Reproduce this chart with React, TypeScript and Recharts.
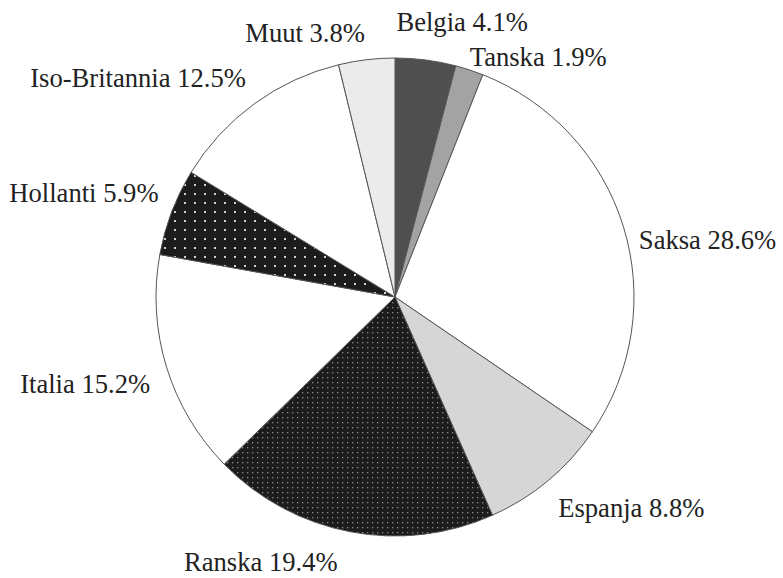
import React from 'react';
import { PieChart, Pie, Cell } from 'recharts';

const countries = ['Belgia', 'Tanska', 'Saksa', 'Espanja', 'Ranska', 'Italia', 'Hollanti', 'Iso-Britannia', 'Muut'];
const shares = [4.1, 1.9, 28.6, 8.8, 19.4, 15.2, 5.9, 12.5, 3.8];

const data = countries.map((name, i) => ({ name, value: shares[i] }));

const fills = [
  '#4f4f4f',
  '#a3a3a3',
  '#ffffff',
  '#d6d6d6',
  'url(#dotsFine)',
  '#ffffff',
  'url(#dotsCoarse)',
  '#ffffff',
  '#ebebeb',
];

// small hand nudges so labels sit where the original has them
const labelNudge = [
  { dx: -31, dy: -24 },
  { dx: -4, dy: 0 },
  { dx: 2, dy: 17 },
  { dx: 1, dy: 17 },
  { dx: -10, dy: 16 },
  { dx: -3, dy: 13 },
  { dx: 0, dy: -14 },
  { dx: 0, dy: -15 },
  { dx: 0, dy: -13 },
];

const RAD = Math.PI / 180;

const renderLabel = (props: any) => {
  const { cx, cy, midAngle, outerRadius, index, name, value } = props;
  const r = outerRadius + 14;
  const x = cx + r * Math.cos(-midAngle * RAD);
  const y = cy + r * Math.sin(-midAngle * RAD);
  const nudge = labelNudge[index];
  return (
    <text
      x={x + nudge.dx}
      y={y + nudge.dy}
      textAnchor={x >= cx ? 'start' : 'end'}
      dominantBaseline="central"
      fill="#222"
      fontSize={26.6}
      fontFamily="'Liberation Serif', 'Times New Roman', serif"
    >
      {`${name} ${value.toFixed(1)}%`}
    </text>
  );
};

export default function App() {
  return (
    <div style={{ position: 'absolute', left: 0, top: 0, width: 783, height: 578, background: '#fff' }}>
      <PieChart width={783} height={578} margin={{ top: 0, right: 0, bottom: 0, left: 0 }}>
        <defs>
          <pattern id="dotsFine" width="5" height="5" patternUnits="userSpaceOnUse">
            <rect width="5" height="5" fill="#1c1c1c" />
            <rect x="2" y="2" width="1.3" height="1.3" fill="#8a8a8a" />
          </pattern>
          <pattern id="dotsCoarse" width="10" height="9" patternUnits="userSpaceOnUse">
            <rect width="10" height="9" fill="#1c1c1c" />
            <rect x="4" y="4" width="2" height="2" fill="#d0d0d0" />
          </pattern>
        </defs>
        <Pie
          data={data}
          dataKey="value"
          nameKey="name"
          cx={395}
          cy={297}
          outerRadius={239}
          startAngle={90}
          endAngle={-270}
          stroke="#555"
          strokeWidth={1}
          label={renderLabel}
          labelLine={false}
          isAnimationActive={false}
        >
          {data.map((d, i) => (
            <Cell key={d.name} fill={fills[i]} />
          ))}
        </Pie>
      </PieChart>
    </div>
  );
}
